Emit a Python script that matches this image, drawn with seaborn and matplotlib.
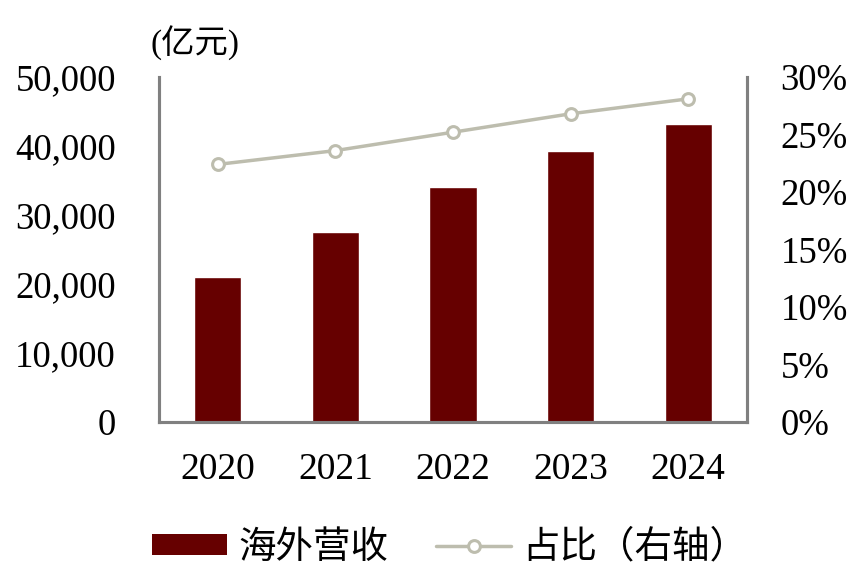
import seaborn as sns
import matplotlib.pyplot as plt
from matplotlib.lines import Line2D
from matplotlib.patches import Patch
from matplotlib.ticker import FuncFormatter, FixedLocator

years = ["2020", "2021", "2022", "2023", "2024"]
overseas_rev = [21000, 27500, 34050, 39300, 43200]   # 亿元
share_pct = [22.4, 23.6, 25.2, 26.8, 28.1]           # %

bar_color = "#660000"
line_color = "#BDBDAE"
spine_color = "#808080"

sns.set_style("white")
plt.rcParams['font.family'] = ['Liberation Serif', 'Noto Sans CJK SC']
plt.rcParams['text.color'] = 'black'
plt.rcParams['xtick.labelcolor'] = 'black'
plt.rcParams['ytick.labelcolor'] = 'black'

fig = plt.figure(figsize=(8.68, 5.83), dpi=100)
ax = fig.add_axes([159 / 868, 1 - 422 / 583, (747 - 159) / 868, (422 - 77) / 583])

sns.barplot(x=years, y=overseas_rev, color=bar_color, width=0.4,
            saturation=1, ax=ax)
ax.set_ylim(0, 50000)
ax.set_xlim(-0.5, 4.5)
ax.set_yticks(range(0, 50001, 10000))
ax.yaxis.set_major_formatter(FuncFormatter(lambda v, p: f"{int(v):,}"))

ax2 = ax.twinx()
sns.pointplot(x=years, y=share_pct, ax=ax2, color=line_color,
              markers="o", linestyles="-", linewidth=2.5,
              markersize=8.5, markerfacecolor="white",
              markeredgewidth=2.2, markeredgecolor=line_color)
ax2.set_ylim(0, 30)
ax2.set_yticks(range(0, 31, 5))
ax2.yaxis.set_major_formatter(FuncFormatter(lambda v, p: f"{int(v)}%"))
ax2.set_xlim(-0.5, 4.5)

for a in (ax, ax2):
    a.set_xlabel("")
    a.set_ylabel("")
    a.grid(False)
    for side in ("left", "right", "bottom"):
        a.spines[side].set_color(spine_color)
        a.spines[side].set_linewidth(2.2)
    a.spines["top"].set_visible(False)

ax.tick_params(axis="y", length=0, pad=31, labelsize=26.5)
ax2.tick_params(axis="y", length=0, pad=24, labelsize=26.5)
ax.tick_params(axis="x", which="major", length=0, pad=22, labelsize=27)
ax.xaxis.set_minor_locator(FixedLocator([-0.5, 0.5, 1.5, 2.5, 3.5, 4.5]))
ax.tick_params(axis="x", which="minor", length=8, width=2.2,
               color=spine_color, direction="out")

fig.text(151 / 868, 1 - 43 / 583, "(亿元)", ha="left", va="center", fontsize=24)

handles = [
    Patch(facecolor=bar_color, edgecolor="none"),
    Line2D([], [], color=line_color, linewidth=2.5, marker="o",
           markersize=8.5, markerfacecolor="white", markeredgewidth=2.2),
]
fig.legend(handles, ["海外营收", "占比（右轴）"], loc="center",
           bbox_to_anchor=(0.518, 1 - 548 / 583), ncol=2, frameon=False,
           fontsize=27, handlelength=2.0, handleheight=0.5,
           columnspacing=1.28, handletextpad=0.3)

fig.savefig("out.png", dpi=100)
